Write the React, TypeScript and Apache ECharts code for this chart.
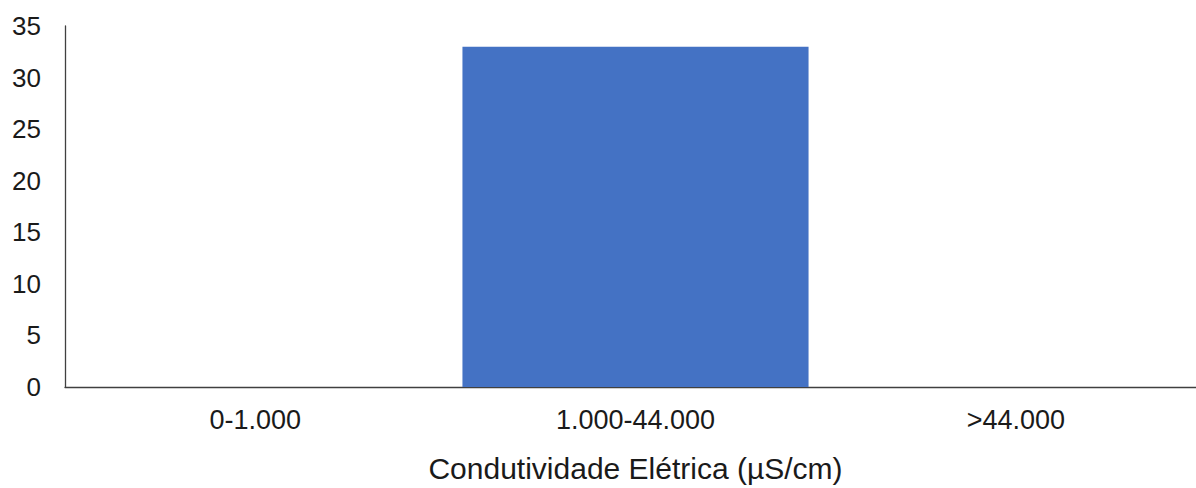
import React, { useEffect, useRef } from "react";
import * as echarts from "echarts";

const categories = ["0-1.000", "1.000-44.000", ">44.000"];
const values = [0, 33, 0];
const xAxisTitle = "Condutividade Elétrica (µS/cm)";
const yMin = 0;
const yMax = 35;
const yInterval = 5;

export default function App() {
  const ref = useRef<HTMLDivElement>(null);
  useEffect(() => {
    document.body.style.margin = "0";
    const chart = echarts.init(ref.current!, null, { renderer: "svg" });
    const font = "'Liberation Sans', Arial, sans-serif";
    chart.setOption({
      animation: false,
      backgroundColor: "#ffffff",
      grid: { left: 65, right: 0, top: 26, bottom: 101, containLabel: false },
      xAxis: {
        type: "category",
        data: categories,
        axisLine: { show: true, lineStyle: { color: "#404040", width: 1.3 } },
        axisTick: { show: false },
        axisLabel: { color: "#1a1a1a", fontSize: 27, fontFamily: font, margin: 19 },
        name: xAxisTitle,
        nameLocation: "middle",
        nameGap: 66,
        nameTextStyle: { color: "#1a1a1a", fontSize: 30, fontFamily: font },
      },
      yAxis: {
        type: "value",
        min: yMin,
        max: yMax,
        interval: yInterval,
        axisLine: { show: true, lineStyle: { color: "#404040", width: 1.3 } },
        axisTick: { show: false },
        splitLine: { show: false },
        axisLabel: { color: "#1a1a1a", fontSize: 26, fontFamily: font, margin: 24 },
      },
      series: [
        {
          type: "bar",
          data: values,
          barCategoryGap: "9%",
          itemStyle: { color: "#4472C4" },
        },
      ],
    });
    return () => chart.dispose();
  }, []);
  return (
    <div style={{ width: 1196, height: 488, overflow: "hidden" }}>
      <div ref={ref} style={{ width: 1206, height: 488 }} />
    </div>
  );
}
